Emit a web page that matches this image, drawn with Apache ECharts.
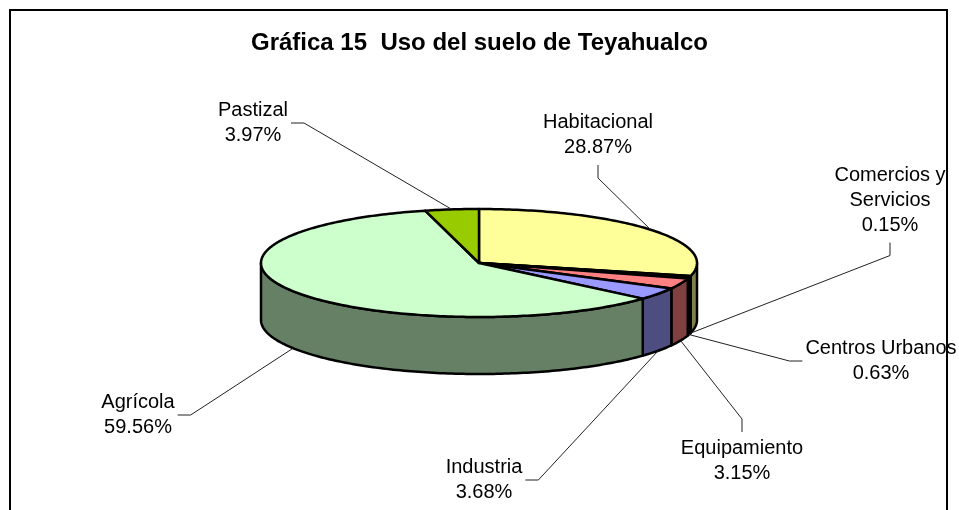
<!DOCTYPE html>
<html>
<head>
<meta charset="utf-8">
<script src="https://cdn.jsdelivr.net/npm/echarts@6/dist/echarts.min.js"></script>
<style>
  html, body { margin: 0; background: #fff; }
  #chart { width: 959px; height: 510px; }
</style>
</head>
<body>
<div id="chart"></div>
<script>
// datos de la gráfica
const categories = ['Habitacional', 'Comercios y Servicios', 'Centros Urbanos', 'Equipamiento', 'Industria', 'Agrícola', 'Pastizal'];
const labelNames = ['Habitacional', 'Comercios y\nServicios', 'Centros Urbanos', 'Equipamiento', 'Industria', 'Agrícola', 'Pastizal'];
const values = [28.87, 0.15, 0.63, 3.15, 3.68, 59.56, 3.97];
const colors = ['#FFFF99', '#996633', '#666699', '#FF8080', '#9999FF', '#CCFFCC', '#99CC00'];

// posición de cada etiqueta (centro del bloque) y lado donde sale la línea guía
const labelLayout = [
  { x: 598, y: 135, side: 'bottom' },
  { x: 890, y: 200, side: 'bottom' },
  { x: 881, y: 361, side: 'left' },
  { x: 742, y: 461, side: 'top' },
  { x: 484, y: 480, side: 'right' },
  { x: 138, y: 415, side: 'right' },
  { x: 253, y: 123, side: 'right' }
];

// geometría del pastel en perspectiva
const pie = { cx: 479, cy: 263, rx: 218, ry: 54, depth: 57 };
const FONT = '"Liberation Sans", Arial, sans-serif';
const FONT_SIZE = 20;
const LINE_H = 25;

const total = values.reduce((a, b) => a + b, 0);
const starts = [];
let acc = 0;
values.forEach(v => { starts.push(acc / total * 360); acc += v; });

function pt(deg, dy) {
  const r = deg * Math.PI / 180;
  return [pie.cx + pie.rx * Math.sin(r), pie.cy - pie.ry * Math.cos(r) + (dy || 0)];
}
function arc(a0, a1, dy) {
  const n = Math.max(1, Math.ceil(a1 - a0));
  const pts = [];
  for (let i = 0; i <= n; i++) pts.push(pt(a0 + (a1 - a0) * i / n, dy));
  return pts;
}
function darken(hex) {
  const n = parseInt(hex.slice(1), 16);
  const r = Math.round(((n >> 16) & 255) * 0.5);
  const g = Math.round(((n >> 8) & 255) * 0.5);
  const b = Math.round((n & 255) * 0.5);
  return 'rgb(' + r + ',' + g + ',' + b + ')';
}
const ctx = document.createElement('canvas').getContext('2d');
ctx.font = FONT_SIZE + 'px ' + FONT;
function textW(s) {
  return Math.max.apply(null, s.split('\n').map(l => ctx.measureText(l).width));
}

function renderSlice(params, api) {
  const i = params.dataIndex;
  const a0 = starts[i];
  const a1 = a0 + api.value(0) / total * 360;
  const children = [];

  // pared frontal
  const f0 = Math.max(a0, 90), f1 = Math.min(a1, 270);
  if (f1 > f0) {
    const top = arc(f0, f1, 0);
    const bot = arc(f0, f1, pie.depth).reverse();
    children.push({
      type: 'polygon', z2: 1,
      shape: { points: top.concat(bot) },
      style: { fill: darken(colors[i]), stroke: '#000', lineWidth: 2.5, lineJoin: 'round' }
    });
  }
  // cara superior
  children.push({
    type: 'polygon', z2: 2,
    shape: { points: [[pie.cx, pie.cy]].concat(arc(a0, a1, 0)) },
    style: { fill: colors[i], stroke: '#000', lineWidth: 2.5, lineJoin: 'round' }
  });

  // etiqueta y línea guía
  const lay = labelLayout[i];
  const txt = labelNames[i] + '\n' + values[i].toFixed(2) + '%';
  const lines = txt.split('\n').length;
  const w = textW(txt), h = lines * LINE_H;
  const mid = (a0 + a1) / 2;
  const front = Math.cos(mid * Math.PI / 180) < 0;
  const anchor = pt(mid, front ? pie.depth : 0);
  let p0, p1;
  if (lay.side === 'right') {
    p0 = [lay.x + w / 2 + 3, lay.y]; p1 = [p0[0] + 13, lay.y];
  } else if (lay.side === 'left') {
    p0 = [lay.x - w / 2 - 3, lay.y]; p1 = [p0[0] - 13, lay.y];
  } else if (lay.side === 'bottom') {
    p0 = [lay.x, lay.y + h / 2 + 5]; p1 = [lay.x, p0[1] + 13];
  } else {
    p0 = [lay.x, lay.y - h / 2 - 4]; p1 = [lay.x, p0[1] - 13];
  }
  children.push({
    type: 'polyline', z2: 3,
    shape: { points: [p0, p1, anchor] },
    style: { stroke: '#222', lineWidth: 1, fill: null }
  });
  children.push({
    type: 'text', z2: 3,
    style: {
      text: txt, x: lay.x, y: lay.y, align: 'center', verticalAlign: 'middle',
      fontSize: FONT_SIZE, fontFamily: FONT, fill: '#000', lineHeight: LINE_H
    }
  });
  return { type: 'group', children: children };
}

const chart = echarts.init(document.getElementById('chart'));
const option = {
  backgroundColor: '#fff',
  animation: false,
  title: {
    text: 'Gráfica 15  Uso del suelo de Teyahualco',
    left: 'center',
    top: 31,
    padding: 0,
    textStyle: { fontFamily: FONT, fontSize: 24, fontWeight: 'bold', color: '#000' }
  },
  graphic: [{
    type: 'rect',
    shape: { x: 10, y: 10, width: 937, height: 600 },
    style: { fill: null, stroke: '#000', lineWidth: 2 },
    silent: true
  }],
  series: [{
    type: 'custom',
    coordinateSystem: 'none',
    silent: true,
    renderItem: renderSlice,
    data: values.map((v, i) => ({ name: categories[i], value: [v] }))
  }]
};
chart.setOption(option);
window.addEventListener('resize', () => chart.resize());
</script>
</body>
</html>
